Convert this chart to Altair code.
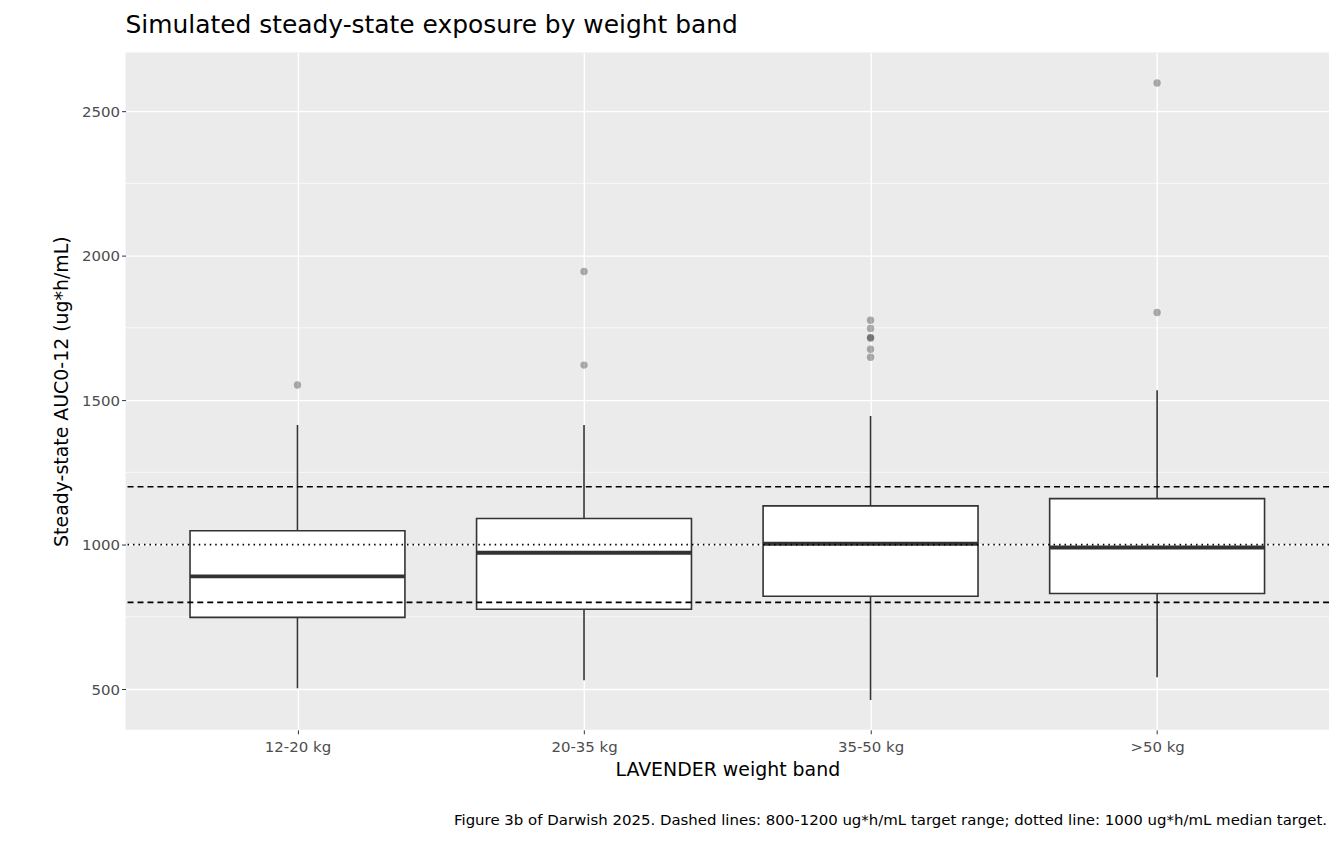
import altair as alt
import pandas as pd

bands = ["12-20 kg", "20-35 kg", "35-50 kg", ">50 kg"]
lower = [503, 531, 462, 541]
q1 = [748, 776, 821, 831]
median = [890, 972, 1003, 990]
q3 = [1048, 1090, 1134, 1159]
upper = [1414, 1414, 1445, 1534]
outlier_band = ["12-20 kg", "20-35 kg", "20-35 kg", "35-50 kg", "35-50 kg", "35-50 kg",
                "35-50 kg", "35-50 kg", "35-50 kg", ">50 kg", ">50 kg"]
outlier_val = [1552, 1945, 1621, 1776, 1748, 1717, 1714, 1676, 1648, 2597, 1803]
target_lines = [800, 1200]
median_target = 1000
minor_grid = [750, 1250, 1750, 2250]

pos = {b: i + 1 for i, b in enumerate(bands)}
boxes = pd.DataFrame({"band": bands, "lower": lower, "q1": q1, "median": median,
                      "q3": q3, "upper": upper})
boxes["x"] = boxes["band"].map(pos)
boxes["xl"] = boxes["x"] - 0.375
boxes["xr"] = boxes["x"] + 0.375
outs = pd.DataFrame({"band": outlier_band, "value": outlier_val})
outs["x"] = outs["band"].map(pos)

INK = "#333333"
label_expr = "datum.value == 1 ? '12-20 kg' : datum.value == 2 ? '20-35 kg' : datum.value == 3 ? '35-50 kg' : '>50 kg'"
xs = alt.Scale(domain=[0.4, 4.6], nice=False, zero=False)
ys = alt.Scale(domain=[359, 2703], nice=False, zero=False)
x_axis = alt.Axis(values=[1, 2, 3, 4], labelExpr=label_expr, title="LAVENDER weight band",
                  grid=True, gridColor="white", gridWidth=1.4, domain=False,
                  tickColor="#333333", tickSize=4, labelColor="#4D4D4D", labelFontSize=15,
                  titleFontSize=19, titleFontWeight="normal", titleColor="black",
                  labelPadding=6, titlePadding=6)
y_axis = alt.Axis(values=[500, 1000, 1500, 2000, 2500], format="d",
                  title="Steady-state AUC0-12 (ug*h/mL)",
                  grid=True, gridColor="white", gridWidth=1.4, domain=False,
                  tickColor="#333333", tickSize=4, labelColor="#4D4D4D", labelFontSize=15,
                  titleFontSize=19, titleFontWeight="normal", titleColor="black", titlePadding=10)

base = alt.Chart(boxes)
axes = alt.Chart(pd.DataFrame({"x": [1], "y": [1000]})).mark_point(opacity=0).encode(
    x=alt.X("x:Q", scale=xs, axis=x_axis), y=alt.Y("y:Q", scale=ys, axis=y_axis))
minor = alt.Chart(pd.DataFrame({"y": minor_grid})).mark_rule(color="white", strokeWidth=0.7).encode(
    y=alt.Y("y:Q", scale=ys))
whisk = base.mark_rule(color=INK, strokeWidth=1.6).encode(
    x=alt.X("x:Q", scale=xs), y=alt.Y("lower:Q", scale=ys), y2="upper:Q")
box = base.mark_rect(fill="white", stroke=INK, strokeWidth=1.6).encode(
    x=alt.X("xl:Q", scale=xs), x2="xr:Q", y=alt.Y("q1:Q", scale=ys), y2="q3:Q")
med = base.mark_rule(color=INK, strokeWidth=4).encode(
    x=alt.X("xl:Q", scale=xs), x2="xr:Q", y=alt.Y("median:Q", scale=ys))
pts = alt.Chart(outs).mark_circle(color="black", opacity=0.3, size=55).encode(
    x=alt.X("x:Q", scale=xs), y=alt.Y("value:Q", scale=ys))
dashed = alt.Chart(pd.DataFrame({"y": target_lines})).mark_rule(
    color="black", strokeDash=[6, 4], strokeWidth=1.6).encode(y=alt.Y("y:Q", scale=ys))
dotted = alt.Chart(pd.DataFrame({"y": [median_target]})).mark_rule(
    color="black", strokeDash=[1.5, 4], strokeWidth=1.8).encode(y=alt.Y("y:Q", scale=ys))
caption = alt.Chart(pd.DataFrame({"t": ["Figure 3b of Darwish 2025. Dashed lines: 800-1200 ug*h/mL target range; dotted line: 1000 ug*h/mL median target."]})).mark_text(
    align="right", baseline="alphabetic", fontSize=15, color="black").encode(
    text="t:N", x=alt.value(1206), y=alt.value(776))

chart = (axes + minor + whisk + box + med + pts + dashed + dotted + caption).properties(
    width=1208, height=680,
    padding={"left": 44, "top": 4, "right": 6, "bottom": 5},
    title=alt.Title("Simulated steady-state exposure by weight band", anchor="start",
                    frame="group", fontSize=25, fontWeight="normal", color="black", offset=14),
).configure(font="DejaVu Sans").configure_view(fill="#EBEBEB", strokeWidth=0)

chart.save("out.html", embed_options={"renderer": "svg", "actions": False})
